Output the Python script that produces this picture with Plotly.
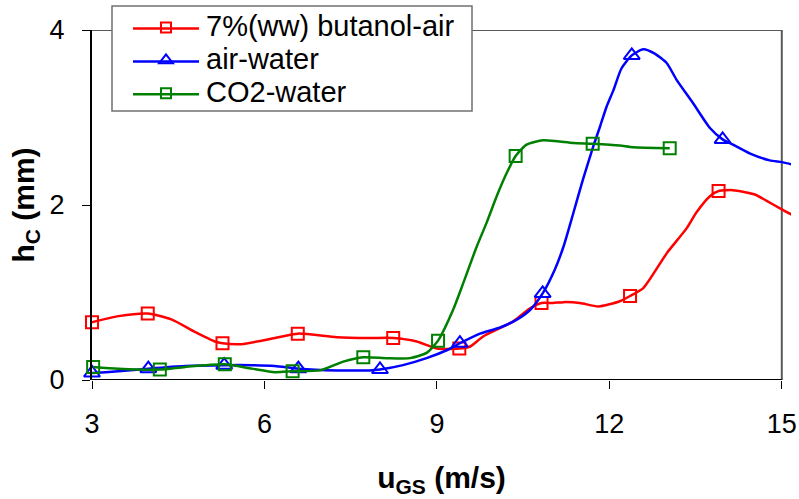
import plotly.graph_objects as go

# ---- data ----
series_names = ["7%(ww) butanol-air", "air-water", "CO2-water"]
series_colors = ["#FF0000", "#0000FF", "#008000"]
series_symbols = ["square-open", "triangle-up-open", "square-open"]

# traced curve vertices
butanol_line_x = [3.00, 3.46, 3.97, 4.39, 4.79, 5.14, 5.27, 5.60, 6.18, 6.58, 7.26, 7.83, 8.24, 8.65, 9.00,
                  9.39, 9.57, 9.81, 10.33, 10.62, 10.82, 11.02, 11.20, 11.49, 11.81, 12.18, 12.36, 12.59,
                  13.00, 13.34, 13.52, 13.75, 13.90, 14.15, 14.53, 14.73, 15.00, 15.20]
butanol_line_y = [0.66, 0.73, 0.76, 0.69, 0.55, 0.44, 0.42, 0.41, 0.48, 0.53, 0.49, 0.48, 0.48, 0.44, 0.36,
                  0.36, 0.38, 0.50, 0.67, 0.82, 0.88, 0.88, 0.89, 0.88, 0.84, 0.90, 0.96, 1.05,
                  1.45, 1.73, 1.92, 2.10, 2.16, 2.17, 2.12, 2.05, 1.95, 1.88]
butanol_mark_x = [3.00, 3.97, 5.27, 6.58, 8.24, 9.39, 10.82, 12.36, 13.90]
butanol_mark_y = [0.66, 0.76, 0.42, 0.53, 0.48, 0.36, 0.88, 0.96, 2.16]

airwater_line_x = [3.00, 3.46, 3.98, 4.62, 5.30, 5.78, 6.18, 6.59, 7.26, 7.83, 8.01, 8.41, 8.82, 9.17,
                   9.40, 9.75, 10.10, 10.39, 10.62, 10.84, 11.05, 11.20, 11.37, 11.54, 11.72, 11.84,
                   11.95, 12.07, 12.21, 12.39, 12.59, 12.79, 13.00, 13.17, 13.46, 13.75, 13.97, 14.15,
                   14.44, 14.79, 15.00, 15.20]
airwater_line_y = [0.08, 0.10, 0.13, 0.16, 0.17, 0.17, 0.16, 0.13, 0.11, 0.11, 0.12, 0.17, 0.25, 0.34,
                   0.42, 0.53, 0.60, 0.69, 0.80, 0.99, 1.26, 1.52, 1.90, 2.29, 2.67, 2.90,
                   3.12, 3.31, 3.56, 3.71, 3.78, 3.73, 3.62, 3.43, 3.16, 2.88, 2.75, 2.69,
                   2.59, 2.51, 2.49, 2.46]
airwater_mark_x = [3.00, 3.98, 5.30, 6.59, 8.01, 9.40, 10.84, 12.39, 13.97]
airwater_mark_y = [0.08, 0.13, 0.17, 0.13, 0.12, 0.42, 0.99, 3.71, 2.75]

co2_line_x = [3.02, 3.46, 4.18, 4.62, 5.31, 5.78, 6.18, 6.49, 6.97, 7.37, 7.72, 8.13, 8.53, 8.82, 9.02,
              9.28, 9.46, 9.69, 9.86, 10.04, 10.21, 10.37, 10.56, 10.85, 11.37, 11.71, 12.18, 12.41, 13.05]
co2_line_y = [0.15, 0.13, 0.12, 0.15, 0.18, 0.13, 0.09, 0.10, 0.11, 0.21, 0.26, 0.25, 0.25, 0.31, 0.45,
              0.80, 1.11, 1.52, 1.79, 2.10, 2.36, 2.56, 2.69, 2.74, 2.71, 2.70, 2.68, 2.66, 2.65]
co2_mark_x = [3.02, 4.18, 5.31, 6.49, 7.72, 9.02, 10.37, 11.71, 13.05]
co2_mark_y = [0.15, 0.12, 0.18, 0.10, 0.26, 0.45, 2.56, 2.70, 2.65]

x_tick_vals = [3, 6, 9, 12, 15]
y_tick_vals = [0, 2, 4]
x_title = "<b>u<sub>GS</sub> (m/s)</b>"
y_title = "<b>h<sub>C</sub> (mm)</b>"

FONT = "Liberation Sans, Arial, sans-serif"

# ---- geometry (pixels) ----
W, H = 799, 499
L, R, T, B = 92, 8, 30, 119
PW, PH = W - L - R, H - T - B


def px(xp):
    return (xp - L) / PW


def py(yp):
    return (H - B - yp) / PH


LEG_LEFT, LEG_RIGHT, LEG_TOP, LEG_BOTTOM = 112, 472, 6, 111
LEG_ROW0, LEG_ROW_STEP = 28.5, 32.9
LEG_LINE_X0, LEG_LINE_X1 = 133, 199

lines = [(butanol_line_x, butanol_line_y), (airwater_line_x, airwater_line_y), (co2_line_x, co2_line_y)]
marks = [(butanol_mark_x, butanol_mark_y), (airwater_mark_x, airwater_mark_y), (co2_mark_x, co2_mark_y)]
msizes = [12, 14, 12]

fig = go.Figure()
for i, name in enumerate(series_names):
    c = series_colors[i]
    fig.add_trace(go.Scatter(x=lines[i][0], y=lines[i][1], mode="lines",
                             line=dict(color=c, width=2.5, shape="spline", smoothing=0.6),
                             showlegend=False, hoverinfo="skip"))
    fig.add_trace(go.Scatter(x=marks[i][0], y=marks[i][1], mode="markers",
                             marker=dict(symbol=series_symbols[i], size=msizes[i], color=c,
                                         line=dict(color=c, width=2)),
                             showlegend=False, cliponaxis=False))
    fig.add_trace(go.Scatter(x=[None], y=[None], mode="markers",
                             name='<span style="font-size:29px">' + name + '</span>',
                             marker=dict(symbol=series_symbols[i], size=msizes[i] - 2, color=c,
                                         line=dict(color=c, width=2))))

# frame: right and top borders (gray), bottom axis (black)
fig.add_shape(type="line", x0=15, x1=15, y0=0, y1=4, xref="x", yref="y",
              line=dict(color="#5a5a5a", width=2), layer="below")
fig.add_shape(type="line", x0=3, x1=15, y0=4, y1=4, xref="x", yref="y",
              line=dict(color="#5a5a5a", width=2), layer="below")
fig.add_shape(type="line", x0=3, x1=15, y0=0, y1=0, xref="x", yref="y",
              line=dict(color="#000000", width=2), layer="below")

# legend box and long legend lines
fig.add_shape(type="rect", xref="paper", yref="paper",
              x0=px(LEG_LEFT), x1=px(LEG_RIGHT), y0=py(LEG_BOTTOM), y1=py(LEG_TOP),
              fillcolor="white", line=dict(color="#707070", width=1.5), layer="above")
for i, c in enumerate(series_colors):
    yy = py(LEG_ROW0 + i * LEG_ROW_STEP)
    fig.add_shape(type="line", xref="paper", yref="paper",
                  x0=px(LEG_LINE_X0), x1=px(LEG_LINE_X1), y0=yy, y1=yy,
                  line=dict(color=c, width=2.5), layer="above")

fig.update_layout(
    width=W, height=H,
    margin=dict(l=L, r=R, t=T, b=B, autoexpand=False),
    paper_bgcolor="white", plot_bgcolor="white",
    font=dict(family=FONT, color="black"),
    legend=dict(x=px(126), y=py(LEG_TOP),
                xanchor="left", yanchor="top", bgcolor="rgba(0,0,0,0)",
                borderwidth=0,
                font=dict(family=FONT, size=23, color="black"),
                itemwidth=70, tracegroupgap=0),
    xaxis=dict(range=[3, 15.16], tickvals=x_tick_vals, ticks="outside", ticklen=8,
               tickcolor="black", tickwidth=1, showline=False, showgrid=False, zeroline=False,
               tickfont=dict(family=FONT, size=27, color="black"), ticklabelstandoff=12,
               automargin=False,
               title=dict(text=x_title, font=dict(family=FONT, size=30, color="black"), standoff=28)),
    yaxis=dict(range=[0, 4], tickvals=y_tick_vals, ticks="outside", ticklen=8,
               tickcolor="black", tickwidth=1, showline=True, linecolor="black", linewidth=2,
               showgrid=False, zeroline=False, automargin=False,
               tickfont=dict(family=FONT, size=27, color="black"), ticklabelstandoff=12,
               title=dict(text=y_title, font=dict(family=FONT, size=30, color="black"), standoff=6)),
)

fig.write_html("out.html", config={"displayModeBar": False},
               post_script="document.body.style.margin='0px';")
